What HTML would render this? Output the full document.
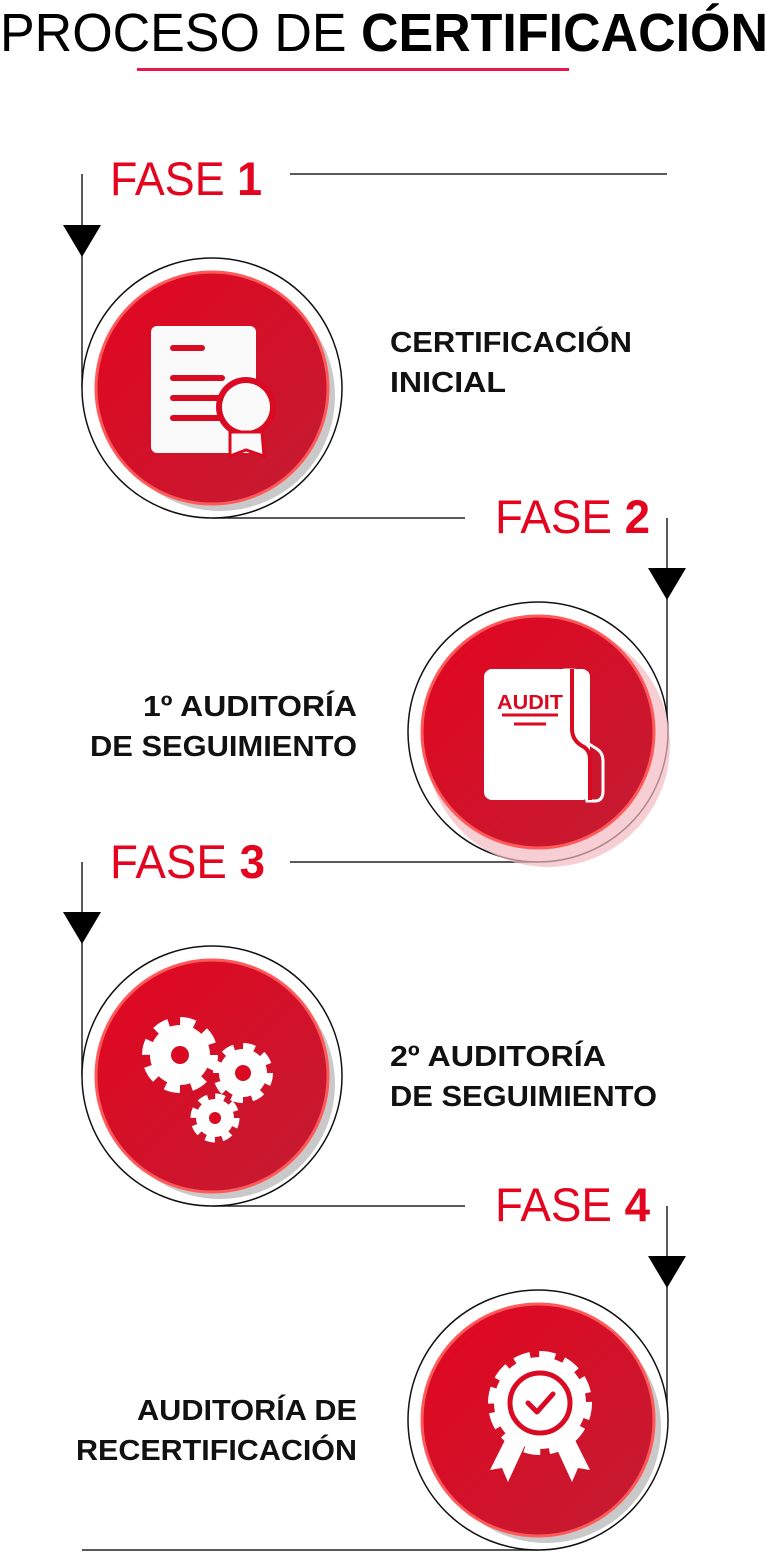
<!DOCTYPE html>
<html><head><meta charset="utf-8"><style>
html,body{margin:0;padding:0;background:#fff;}
svg{display:block;}
text{font-family:"Liberation Sans",sans-serif;}
</style></head><body>
<svg width="768" height="1565" viewBox="0 0 768 1565" xmlns="http://www.w3.org/2000/svg">
<defs>
<linearGradient id="rg" x1="0" y1="0" x2="1" y2="1">
<stop offset="0" stop-color="#e3051f"/><stop offset="1" stop-color="#c21d33"/>
</linearGradient>
</defs>

<text x="0" y="51" font-size="54" textLength="768" lengthAdjust="spacingAndGlyphs" fill="#000">PROCESO DE <tspan font-weight="bold">CERTIFICACIÓN</tspan></text>
<rect x="137" y="68" width="432" height="3" fill="#e8154f"/>

<g stroke="#222" stroke-width="1.5" fill="none">
<line x1="290" y1="174" x2="667" y2="174"/>
<line x1="82" y1="174" x2="82" y2="388"/>
<line x1="212" y1="518" x2="465" y2="518"/>
<line x1="667" y1="518" x2="667" y2="732"/>
<line x1="290" y1="862" x2="538" y2="862"/>
<line x1="82" y1="862" x2="82" y2="1076"/>
<line x1="212" y1="1206" x2="465" y2="1206"/>
<line x1="667" y1="1206" x2="667" y2="1420"/>
<line x1="82" y1="1550" x2="538" y2="1550"/>
</g>
<g fill="#000">
<polygon points="63,225 101,225 82,257"/>
<polygon points="648,568 686,568 667,600"/>
<polygon points="63,912 101,912 82,944"/>
<polygon points="648,1256 686,1256 667,1288"/>
</g>

<g font-size="47" fill="#e3051f">
<text x="110" y="195" textLength="152" lengthAdjust="spacingAndGlyphs">FASE <tspan font-weight="bold">1</tspan></text>
<text x="495" y="533" textLength="155" lengthAdjust="spacingAndGlyphs">FASE <tspan font-weight="bold">2</tspan></text>
<text x="110" y="878" textLength="155" lengthAdjust="spacingAndGlyphs">FASE <tspan font-weight="bold">3</tspan></text>
<text x="495" y="1221" textLength="155" lengthAdjust="spacingAndGlyphs">FASE <tspan font-weight="bold">4</tspan></text>
</g>

<g>
<circle cx="212" cy="388" r="130" fill="#fff" stroke="#111" stroke-width="1.5"/>
<circle cx="220" cy="396" r="115" fill="#bbb" opacity="0.8"/>
<circle cx="212" cy="388" r="116" fill="url(#rg)" stroke="#ff5a5a" stroke-width="3"/>

<circle cx="538" cy="732" r="130" fill="#fff" stroke="#111" stroke-width="1.5"/>
<circle cx="548" cy="745" r="122" fill="#f4b9c1" opacity="0.7"/>
<circle cx="538" cy="732" r="116" fill="url(#rg)" stroke="#ff5a5a" stroke-width="3"/>

<circle cx="212" cy="1076" r="130" fill="#fff" stroke="#111" stroke-width="1.5"/>
<circle cx="220" cy="1084" r="115" fill="#bbb" opacity="0.8"/>
<circle cx="212" cy="1076" r="116" fill="url(#rg)" stroke="#ff5a5a" stroke-width="3"/>

<circle cx="538" cy="1420" r="130" fill="#fff" stroke="#111" stroke-width="1.5"/>
<circle cx="546" cy="1428" r="115" fill="#bbb" opacity="0.8"/>
<circle cx="538" cy="1420" r="116" fill="url(#rg)" stroke="#ff5a5a" stroke-width="3"/>
</g>

<rect x="151" y="326" width="105" height="127" rx="6" fill="#fafafa"/>
<g stroke="#d90a22" stroke-width="6" stroke-linecap="round">
<line x1="173" y1="348" x2="202" y2="348"/>
<line x1="173" y1="378" x2="222" y2="378"/>
<line x1="173" y1="398" x2="222" y2="398"/>
<line x1="173" y1="418" x2="222" y2="418"/>
</g>
<circle cx="246" cy="407" r="30" fill="#d90a22"/>
<circle cx="246" cy="407" r="24" fill="#fafafa"/>
<polygon points="230,432 262,432 264,456 246,450 230,456" fill="#fafafa" stroke="#d90a22" stroke-width="3"/>

<path d="M565,670 l8,0 q6,0 6,8 l0,50 q0,10 10,16 l8,5 q6,4 6,12 l0,30 q0,10 -8,10 l-8,0z" fill="none" stroke="#fff" stroke-width="3"/>
<rect x="484" y="669" width="106" height="131" rx="8" fill="#fff"/>
<path d="M572,669 l0,60 q0,12 12,18 q6,4 6,12 l0,41" fill="none" stroke="#d90a22" stroke-width="4"/>
<text x="497" y="709" font-size="20" font-weight="bold" fill="#d90a22" textLength="66" lengthAdjust="spacingAndGlyphs">AUDIT</text>
<line x1="502" y1="715" x2="558" y2="715" stroke="#d90a22" stroke-width="3"/>
<line x1="514" y1="724" x2="546" y2="724" stroke="#d90a22" stroke-width="3"/>

<g fill="#fff">
<circle cx="180" cy="1055" r="30"/>
<circle cx="180" cy="1055" r="33" fill="none" stroke="#fff" stroke-width="10" stroke-dasharray="14.5 11.4"/>
<circle cx="243" cy="1073" r="24"/>
<circle cx="243" cy="1073" r="26" fill="none" stroke="#fff" stroke-width="8" stroke-dasharray="11.5 8.9"/>
<circle cx="215" cy="1118" r="19"/>
<circle cx="215" cy="1118" r="21" fill="none" stroke="#fff" stroke-width="7" stroke-dasharray="9.3 7.2"/>
</g>
<g fill="#d90a22">
<circle cx="180" cy="1055" r="9"/>
<circle cx="243" cy="1073" r="8"/>
<circle cx="215" cy="1118" r="6"/>
</g>

<polygon points="510,1430 490,1470 502,1468 508,1482 525,1445" fill="#fff"/>
<polygon points="570,1430 590,1470 578,1468 572,1482 555,1445" fill="#fff"/>
<circle cx="540" cy="1403" r="46" fill="#fff"/>
<circle cx="540" cy="1403" r="48" fill="none" stroke="#fff" stroke-width="8" stroke-dasharray="16 9"/>
<circle cx="540" cy="1403" r="30" fill="none" stroke="#d90a22" stroke-width="5"/>
<polyline points="528,1403 537,1412 553,1394" fill="none" stroke="#d90a22" stroke-width="5" stroke-linecap="round" stroke-linejoin="round"/>

<g font-size="29" font-weight="bold" fill="#111" lengthAdjust="spacingAndGlyphs">
<text x="390" y="352" textLength="242" lengthAdjust="spacingAndGlyphs">CERTIFICACIÓN</text>
<text x="390" y="392" textLength="116" lengthAdjust="spacingAndGlyphs">INICIAL</text>
<text x="143" y="716" textLength="214" lengthAdjust="spacingAndGlyphs">1º AUDITORÍA</text>
<text x="90" y="756" textLength="267" lengthAdjust="spacingAndGlyphs">DE SEGUIMIENTO</text>
<text x="390" y="1066" textLength="216" lengthAdjust="spacingAndGlyphs">2º AUDITORÍA</text>
<text x="390" y="1106" textLength="267" lengthAdjust="spacingAndGlyphs">DE SEGUIMIENTO</text>
<text x="137" y="1420" textLength="220" lengthAdjust="spacingAndGlyphs">AUDITORÍA DE</text>
<text x="76" y="1460" textLength="281" lengthAdjust="spacingAndGlyphs">RECERTIFICACIÓN</text>
</g>
</svg>
</body></html>
